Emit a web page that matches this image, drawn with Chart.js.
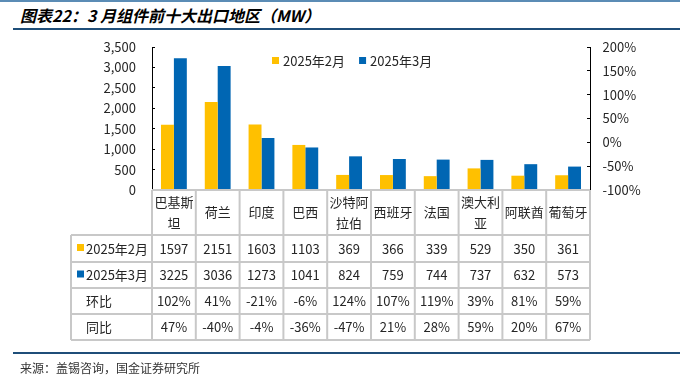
<!DOCTYPE html>
<html>
<head>
<meta charset="utf-8">
<script src="https://cdn.jsdelivr.net/npm/chart.js@4.4.1/dist/chart.umd.min.js"></script>
<style>
  body { margin: 0; background: #fff; font-family: "Noto Sans CJK SC", sans-serif; }
  #page { position: relative; width: 680px; height: 378px; overflow: hidden; }
  #topline { position: absolute; left: 0; top: 0; width: 680px; height: 2px; background: #5b8cb5; }
  #title { position: absolute; left: 20px; top: 3px; font-size: 16px; font-weight: bold; font-style: italic; color: #000; white-space: nowrap; }
  #titleline { position: absolute; left: 13px; top: 28px; width: 667px; height: 2px; background: #1f4e79; }
  #footline { position: absolute; left: 13px; top: 352px; width: 667px; height: 2px; background: #1f4e79; }
  #source { position: absolute; left: 20px; top: 359px; font-size: 12px; color: #333; white-space: nowrap; }
  #chart { position: absolute; left: 0; top: 0; }
</style>
</head>
<body>
<div id="page">
  <div id="topline"></div>
  <div id="title">图表22：3 月组件前十大出口地区（MW）</div>
  <div id="titleline"></div>
  <canvas id="chart" width="680" height="378"></canvas>
  <div id="footline"></div>
  <div id="source">来源：盖锡咨询，国金证券研究所</div>
</div>
<script>
// data
var regions = ['巴基斯坦', '荷兰', '印度', '巴西', '沙特阿拉伯', '西班牙', '法国', '澳大利亚', '阿联酋', '葡萄牙'];
var feb2025 = [1597, 2151, 1603, 1103, 369, 366, 339, 529, 350, 361];
var mar2025 = [3225, 3036, 1273, 1041, 824, 759, 744, 737, 632, 573];
var momPct = [102, 41, -21, -6, 124, 107, 119, 39, 81, 59];   // 环比
var yoyPct = [47, -40, -4, -36, -47, 21, 28, 59, 20, 67];     // 同比

var YELLOW = '#FFC000';
var BLUE = '#0066B3';
var FONT = '"Noto Sans CJK SC", sans-serif';

// legend + data table under the plot, aligned to the x scale
var tablePlugin = {
  id: 'tablePlugin',
  afterDraw: function (chart) {
    var ctx = chart.ctx;
    var xs = chart.scales.x;
    var n = regions.length;
    var colW = xs.width / n;
    var left = 71, right = xs.right, plotLeft = xs.left;
    var rows = [190, 235, 262, 288, 314, 340];

    ctx.save();
    // legend
    ctx.font = '13px ' + FONT;
    ctx.textBaseline = 'middle';
    ctx.textAlign = 'left';
    var lx = 272, ly = 61;
    chart.data.datasets.forEach(function (ds) {
      ctx.fillStyle = ds.backgroundColor;
      ctx.fillRect(lx, ly - 4, 7, 7);
      ctx.fillStyle = '#262626';
      ctx.fillText(ds.label, lx + 11, ly);
      lx += 11 + ctx.measureText(ds.label).width + 14;
    });

    // grid lines
    ctx.strokeStyle = '#c8c8c8';
    ctx.lineWidth = 2;
    ctx.beginPath();
    ctx.moveTo(plotLeft, rows[0]); ctx.lineTo(right, rows[0]);
    for (var r = 1; r < rows.length; r++) {
      ctx.moveTo(left, rows[r]); ctx.lineTo(right, rows[r]);
    }
    for (var i = 0; i <= n; i++) {
      var gx = plotLeft + i * colW;
      ctx.moveTo(gx, rows[0]); ctx.lineTo(gx, rows[rows.length - 1]);
    }
    ctx.moveTo(left, rows[1]); ctx.lineTo(left, rows[rows.length - 1]);
    ctx.stroke();

    // category names (wrap after 3 chars)
    ctx.fillStyle = '#262626';
    ctx.textAlign = 'center';
    regions.forEach(function (name, k) {
      var cx = xs.getPixelForValue(k);
      if (name.length > 3) {
        ctx.fillText(name.slice(0, 3), cx, 202);
        ctx.fillText(name.slice(3), cx, 223);
      } else {
        ctx.fillText(name, cx, 212.5);
      }
    });

    // data rows
    var tableRows = [
      { label: chart.data.datasets[0].label, color: YELLOW, vals: feb2025.map(String) },
      { label: chart.data.datasets[1].label, color: BLUE, vals: mar2025.map(String) },
      { label: '环比', vals: momPct.map(function (v) { return v + '%'; }) },
      { label: '同比', vals: yoyPct.map(function (v) { return v + '%'; }) }
    ];
    tableRows.forEach(function (row, j) {
      var cy = (rows[j + 1] + rows[j + 2]) / 2 + 0.5;
      ctx.textAlign = 'left';
      if (row.color) {
        ctx.fillStyle = row.color;
        ctx.fillRect(77, cy - 5, 7, 7);
      }
      ctx.fillStyle = '#262626';
      ctx.fillText(row.label, 86, cy);
      ctx.textAlign = 'center';
      row.vals.forEach(function (v, k) {
        ctx.fillText(v, xs.getPixelForValue(k), cy);
      });
    });
    ctx.restore();
  }
};

new Chart(document.getElementById('chart'), {
  type: 'bar',
  data: {
    labels: regions,
    datasets: [
      { label: '2025年2月', data: feb2025, backgroundColor: YELLOW, yAxisID: 'y' },
      { label: '2025年3月', data: mar2025, backgroundColor: BLUE, yAxisID: 'y' }
    ]
  },
  options: {
    responsive: false,
    animation: false,
    layout: { padding: { left: 0, right: 0, top: 47, bottom: 188 } },
    datasets: { bar: { categoryPercentage: 0.59, barPercentage: 1.0, borderWidth: 0 } },
    plugins: { legend: { display: false }, tooltip: { enabled: false } },
    scales: {
      x: { display: false },
      y: {
        position: 'left',
        min: 0, max: 3500,
        afterFit: function (s) { s.width = 152; },
        ticks: {
          stepSize: 500, padding: 19, color: '#262626',
          font: { size: 13, family: FONT },
          callback: function (v) { return v.toLocaleString('en-US'); }
        },
        grid: { drawOnChartArea: false, drawTicks: true, tickLength: -3, color: '#000' },
        border: { color: '#000', width: 1 }
      },
      y2: {
        type: 'linear',
        position: 'right',
        min: -1, max: 2,
        afterFit: function (s) { s.width = 90; },
        ticks: {
          stepSize: 0.5, padding: 15.5, color: '#262626',
          font: { size: 13, family: FONT },
          callback: function (v) { return Math.round(v * 100) + '%'; }
        },
        grid: { drawOnChartArea: false, drawTicks: true, tickLength: -3, color: '#000' },
        border: { color: '#000', width: 1 }
      }
    }
  },
  plugins: [tablePlugin]
});
</script>
</body>
</html>
